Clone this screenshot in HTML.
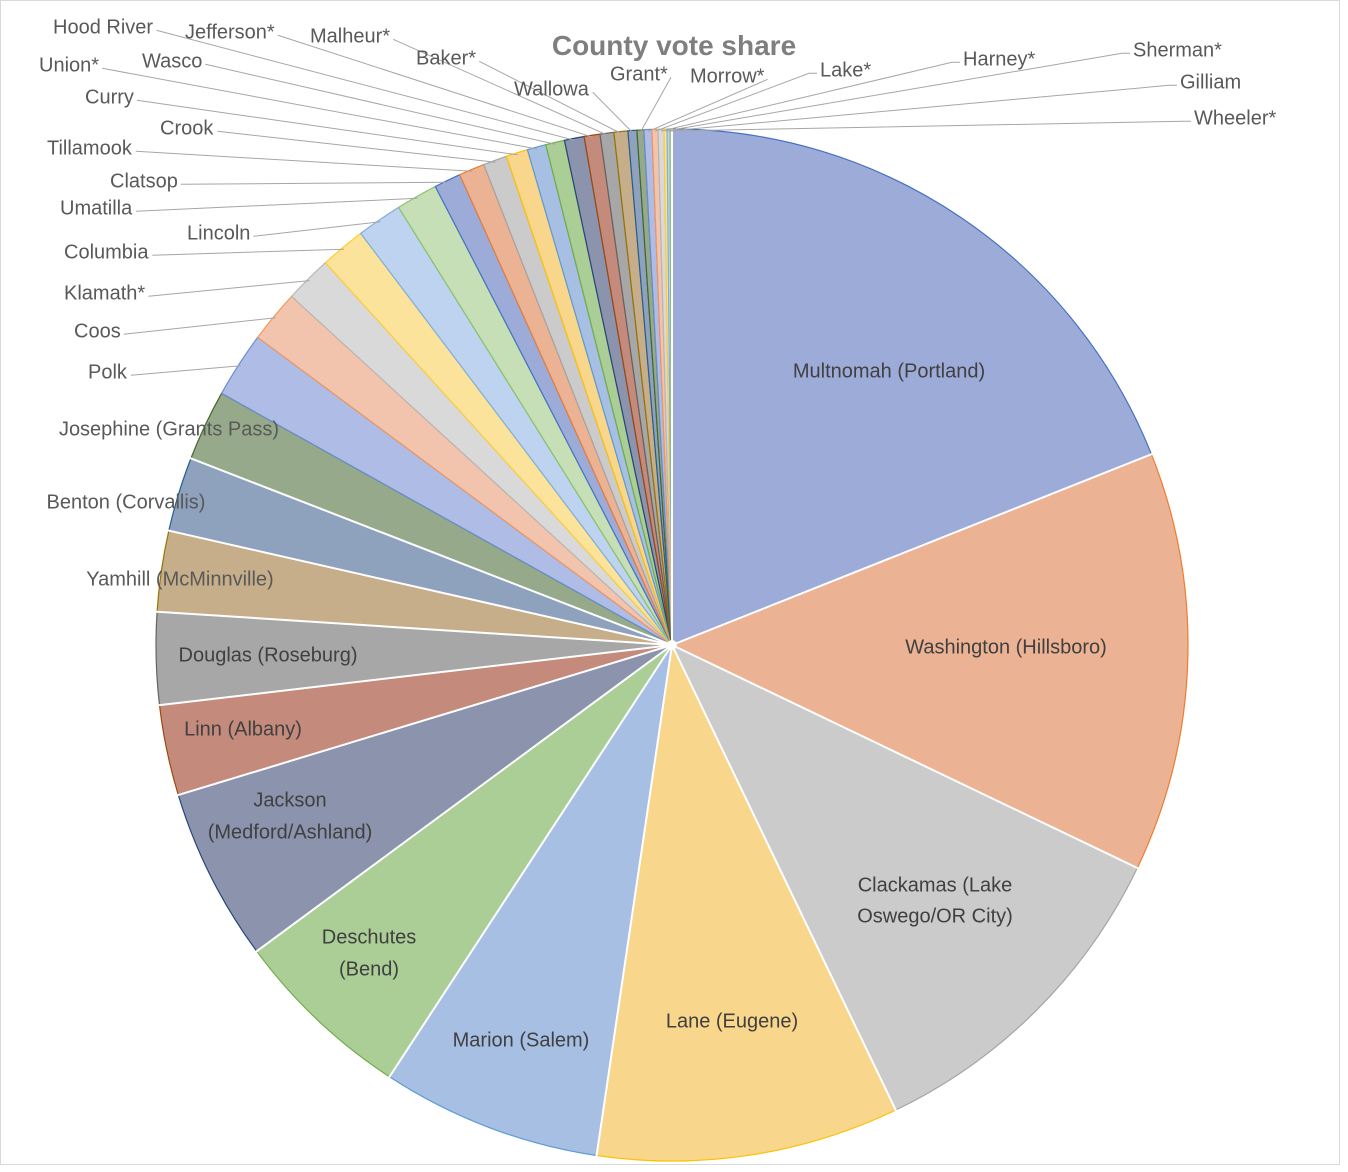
<!DOCTYPE html>
<html><head><meta charset="utf-8"><style>
html,body{margin:0;padding:0;background:#fff}
svg{display:block}
text{font-family:"Liberation Sans",sans-serif;font-size:20px;fill:#595959}
.in{fill:#404040}
</style></head><body>
<svg id="s" width="1348" height="1172" viewBox="0 0 1348 1172">
<rect x="0.5" y="0.5" width="1339" height="1164" fill="#fff" stroke="#d9d9d9" stroke-width="1"/>
<g id="slices"></g>
<g id="lines" stroke="#a6a6a6" stroke-width="1" fill="none"></g>
<text x="674" y="55" text-anchor="middle" style="font-size:28px;font-weight:bold;fill:#7f7f7f">County vote share</text>
<g dominant-baseline="middle">
<text class="in" x="889" y="372" text-anchor="middle">Multnomah (Portland)</text>
<text class="in" x="1006" y="648" text-anchor="middle">Washington (Hillsboro)</text>
<text class="in" x="935" y="886" text-anchor="middle">Clackamas (Lake</text>
<text class="in" x="935" y="917" text-anchor="middle">Oswego/OR City)</text>
<text class="in" x="732" y="1022" text-anchor="middle">Lane (Eugene)</text>
<text class="in" x="521" y="1041" text-anchor="middle">Marion (Salem)</text>
<text class="in" x="369" y="938" text-anchor="middle">Deschutes</text>
<text class="in" x="369" y="970" text-anchor="middle">(Bend)</text>
<text class="in" x="290" y="801" text-anchor="middle">Jackson</text>
<text class="in" x="290" y="833" text-anchor="middle">(Medford/Ashland)</text>
<text class="in" x="243" y="730" text-anchor="middle">Linn (Albany)</text>
<text class="in" x="268" y="656" text-anchor="middle">Douglas (Roseburg)</text>
<text x="180" y="580" text-anchor="middle">Yamhill (McMinnville)</text>
<text x="126" y="503" text-anchor="middle">Benton (Corvallis)</text>
<text x="169" y="430" text-anchor="middle">Josephine (Grants Pass)</text>
<text id="L12" x="88" y="373">Polk</text>
<text id="L13" x="74" y="332">Coos</text>
<text id="L14" x="64" y="294">Klamath*</text>
<text id="L15" x="64" y="253">Columbia</text>
<text id="L16" x="187" y="234">Lincoln</text>
<text id="L17" x="60" y="209">Umatilla</text>
<text id="L18" x="110" y="182">Clatsop</text>
<text id="L19" x="47" y="149">Tillamook</text>
<text id="L20" x="160" y="129">Crook</text>
<text id="L21" x="85" y="98">Curry</text>
<text id="L22" x="39" y="66">Union*</text>
<text id="L23" x="142" y="62">Wasco</text>
<text id="L24" x="53" y="28">Hood River</text>
<text id="L25" x="185" y="33">Jefferson*</text>
<text id="L26" x="310" y="37">Malheur*</text>
<text id="L27" x="416" y="59">Baker*</text>
<text id="L28" x="514" y="90">Wallowa</text>
<text id="L29" x="610" y="75">Grant*</text>
<text id="L30" x="690" y="77">Morrow*</text>
<text id="L31" x="820" y="71">Lake*</text>
<text id="L32" x="963" y="60">Harney*</text>
<text id="L33" x="1133" y="51">Sherman*</text>
<text id="L34" x="1180" y="83">Gilliam</text>
<text id="L35" x="1194" y="119">Wheeler*</text>
</g>
</svg>
<script>
var cx=672,cy=645,R=516;
var b=[0,68.3,115.6,154.3,188.4,213.2,233.6,253.1,263.3,273.7,282.8,291.2,299.2,306.6,312.5,317.8,322.9,328,332.7];
var w=[2.7,2.6,2.4,2.2,1.9,1.9,2.0,1.6,1.4,1.4,0.9,0.7,0.8,0.6,0.6,0.3,0.3,0.2];
var sw=w.reduce(function(a,c){return a+c},0),cur=332.7;
w.forEach(function(v){cur+=v/sw*27.3;b.push(cur)});
b[b.length-1]=360;
var fill=[["#9dabd9","#4472c4"],["#ecb294","#ed7d31"],["#cbcbcb","#a5a5a5"],["#f8d68c","#ffc000"],["#a6bfe3","#5b9bd5"],["#abcd96","#70ad47"],
["#8b93ad","#264478"],["#c48a7c","#9e480e"],["#a7a7a7","#636363"],["#c7ae8a","#997300"],["#8ea2bd","#255e91"],["#96a98a","#43682b"],
["#aebce6","#698ed0"],["#f2c4ad","#f1975a"],["#d9d9d9","#b7b7b7"],["#fce39c","#ffcd33"],["#bdd3ef","#7cafdd"],["#c6dfb6","#8cc168"]];
function col(i){var k=i%18;return fill[k];}
function pt(a,r){a=a*Math.PI/180;return [cx+r*Math.sin(a),cy-r*Math.cos(a)];}
var g=document.getElementById('slices'),ns="http://www.w3.org/2000/svg",h="";
for(var i=0;i<36;i++){
 var a0=b[i],a1=b[i+1],p0=pt(a0,R),p1=pt(a1,R),lg=(a1-a0)>180?1:0,c=col(i);
 h+='<path d="M'+cx+','+cy+' L'+p0[0].toFixed(1)+','+p0[1].toFixed(1)+' A'+R+','+R+' 0 '+lg+' 1 '+p1[0].toFixed(1)+','+p1[1].toFixed(1)+' Z" fill="'+c[0]+'" stroke="'+c[1]+'" stroke-width="1.2"/>';
}
for(var i=0;i<12;i++){var p=pt(b[i],R+2);h+='<line x1="'+cx+'" y1="'+cy+'" x2="'+p[0].toFixed(1)+'" y2="'+p[1].toFixed(1)+'" stroke="#fff" stroke-width="2"/>';}
h+='<circle cx="'+cx+'" cy="'+cy+'" r="5" fill="#fff"/>';
g.innerHTML=h;
var lh="";
for(var i=12;i<36;i++){
 var t=document.getElementById('L'+i);if(!t)continue;
 var bb=t.getBBox(),m=(b[i]+b[i+1])/2,p=pt(m,R-2),x,y=bb.y+bb.height/2+3;
 if(i>=31){x=bb.x-3;lh+='<polyline points="'+p[0].toFixed(1)+','+p[1].toFixed(1)+' '+(x-8)+','+y+' '+x+','+y+'"/>';}
 else{x=bb.x+bb.width+3;lh+='<line x1="'+x+'" y1="'+y+'" x2="'+p[0].toFixed(1)+'" y2="'+p[1].toFixed(1)+'"/>';}
}
document.getElementById('lines').innerHTML=lh;
</script>
</body></html>
